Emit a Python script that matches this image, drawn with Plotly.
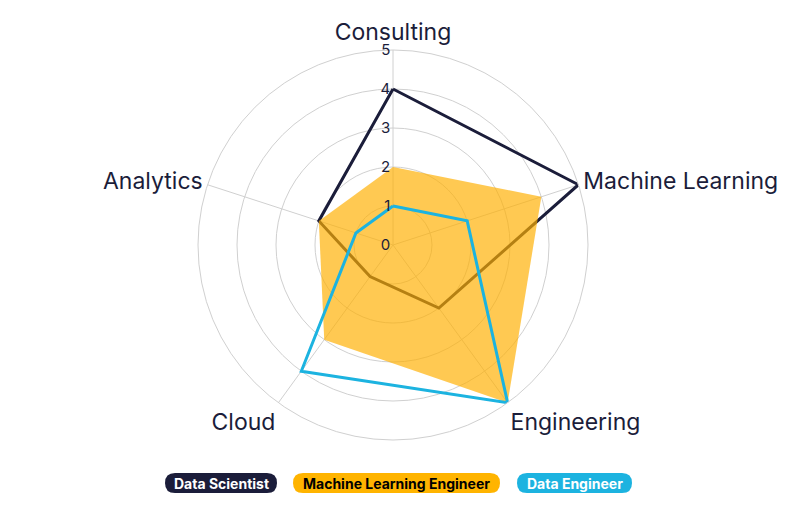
import plotly.graph_objects as go

categories = ["Consulting", "Machine Learning", "Engineering", "Cloud", "Analytics"]
series_names = ["Data Scientist", "Machine Learning Engineer", "Data Engineer"]
data_scientist = [4, 5, 2, 1, 2]
ml_engineer = [2, 4, 5, 3, 2]
data_engineer = [1, 2, 5, 4, 1]
radial_ticks = [0, 1, 2, 3, 4, 5]

NAVY = "#1b1d3a"
ORANGE = "#ffb400"
CYAN = "#1cb3e0"
FONT = "Inter"

def closed(v):
    return v + v[:1]

cats_closed = closed(categories)

fig = go.Figure()
fig.add_trace(go.Scatterpolar(
    r=closed(data_scientist), theta=cats_closed, mode="lines",
    line=dict(color=NAVY, width=3), name=series_names[0]))
fig.add_trace(go.Scatterpolar(
    r=closed(ml_engineer), theta=cats_closed, mode="lines", fill="toself",
    fillcolor="rgba(255,176,0,0.68)", line=dict(color="rgba(0,0,0,0)", width=0),
    name=series_names[1]))
fig.add_trace(go.Scatterpolar(
    r=closed(data_engineer), theta=cats_closed, mode="lines",
    line=dict(color=CYAN, width=3), name=series_names[2]))

fig.update_layout(
    width=800, height=514,
    margin=dict(l=0, r=0, t=0, b=0),
    paper_bgcolor="white",
    showlegend=False,
    font=dict(family=FONT, color=NAVY),
    polar=dict(
        domain=dict(x=[198/800, 588/800], y=[1-440/514, 1-50/514]),
        bgcolor="white",
        radialaxis=dict(range=[0, 5], tickvals=radial_ticks, angle=90, tickangle=90,
                        side="counterclockwise",
                        showline=False, ticks="", gridcolor="#d0d0d0", gridwidth=1,
                        tickfont=dict(size=15, color=NAVY, family=FONT)),
        angularaxis=dict(direction="clockwise", rotation=90, gridcolor="#d0d0d0",
                         linecolor="#d0d0d0", showline=True, ticks="",
                         tickfont=dict(size=23, color=NAVY, family=FONT)),
    ),
)

# Legend pills
pills = [
    (series_names[0], 165, 277, NAVY, "white"),
    (series_names[1], 293, 500, ORANGE, "black"),
    (series_names[2], 517, 632, CYAN, "white"),
]
y0p, y1p = 1 - 493/514, 1 - 473/514
for name, x0, x1, bg, fg in pills:
    a, b = x0/800, x1/800
    rx = 10/800
    ry = 10/514
    path = (f"M {a+rx},{y0p} L {b-rx},{y0p} Q {b},{y0p} {b},{y0p+ry} "
            f"L {b},{y1p-ry} Q {b},{y1p} {b-rx},{y1p} L {a+rx},{y1p} "
            f"Q {a},{y1p} {a},{y1p-ry} L {a},{y0p+ry} Q {a},{y0p} {a+rx},{y0p} Z")
    fig.add_shape(type="path", xref="paper", yref="paper", path=path, layer="below",
                  fillcolor=bg, line=dict(color=bg, width=0))
    fig.add_annotation(x=(a+b)/2, y=(y0p+y1p)/2, xref="paper", yref="paper",
                       xanchor="center", yanchor="middle",
                       text=f"<b>{name}</b>", showarrow=False,
                       font=dict(size=14, color=fg, family=FONT))

fig.write_html("out.html", config={"displayModeBar": False},
               post_script="document.body.style.margin='0';document.body.style.overflow='hidden';")
